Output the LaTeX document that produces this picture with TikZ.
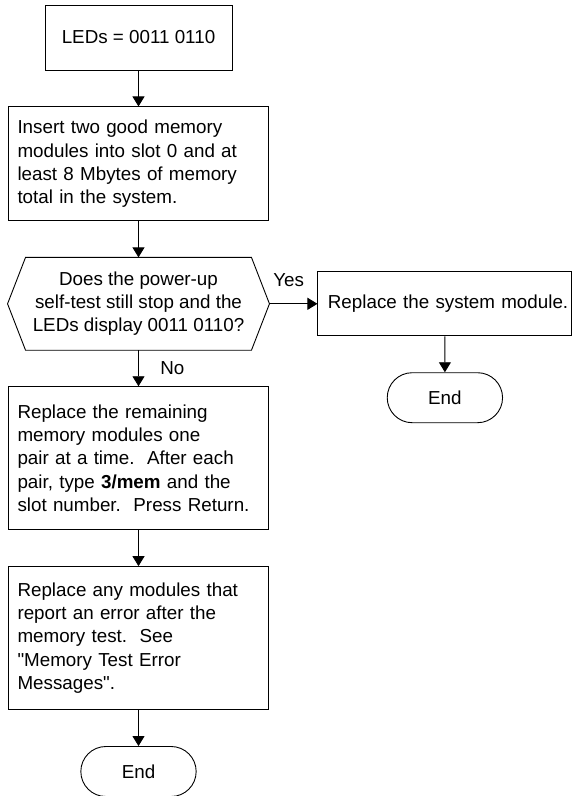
\documentclass[tikz,border=0pt]{standalone}
\usepackage{fontspec}
\setmainfont{Liberation Sans}[Ligatures=TeXOff]
\usepackage{tikz}
\usetikzlibrary{arrows.meta,positioning,shapes.misc}

\begin{document}
\begin{tikzpicture}[node distance=36pt, line width=0.9pt, >={Triangle[length=10pt,width=12pt]}, font=\fontsize{18.8}{23.3}\selectfont]
        \tikzset{stepbox/.style={rectangle, draw, inner xsep=9pt, text width=242pt, align=left, minimum height=143pt}}
        \tikzset{decision/.style={rectangle, minimum width=261pt, minimum height=92pt, align=center}}
        \tikzset{stop/.style={rounded rectangle, draw, minimum width=122pt, minimum height=50pt}}

        \useasboundingbox (0,0) rectangle (572pt,-796pt);

        \node [rectangle, draw, minimum width=187pt, minimum height=65pt] (leds) at (138.5pt,-37.5pt) {LEDs = 0011 0110};
        \node [stepbox, minimum height=114pt, below=of leds] (insert) {Insert two good memory\\modules into slot 0 and at\\least 8 Mbytes of memory\\total in the system.};
        \node [decision, below=of insert] (test) {Does the power-up\\self-test still stop and the\\LEDs display 0011 0110?};
        \node [stepbox, below=of test] (remaining) {Replace the remaining\\memory modules one\\pair at a time.\ \ After each\\pair, type \textbf{3/mem} and the\\slot number.\ \ Press Return.};
        \node [stepbox, below=of remaining] (anyerr) {Replace any modules that\\report an error after the\\memory test.\ \ See\\"Memory Test Error\\Messages".};
        \node [stop, below=of anyerr] (end1) {End};
        \node [rectangle, draw, inner xsep=10pt, text width=234pt, align=left, minimum height=64pt, right=48pt of test] (system) {\mbox{Replace the system module.}};
        \node [stop, below=of system] (end2) {End};

        % hexagon round the question
        \draw (test.west) -- ([xshift=18pt]test.north west) -- ([xshift=-18pt]test.north east) -- (test.east) -- ([xshift=-18pt]test.south east) -- ([xshift=18pt]test.south west) -- cycle;

        \draw [->] (leds) -- (insert);
        \draw [->] (insert) -- (test);
        \draw [->] (test) -- node [right=18pt] {No} (remaining);
        \draw [->] (test) -- node [above=13pt, pos=0.4] {Yes} (system);
        \draw [->] (system) -- (end2);
        \draw [->] (remaining) -- (anyerr);
        \draw [->] (anyerr) -- (end1);
    \end{tikzpicture}
\end{document}
